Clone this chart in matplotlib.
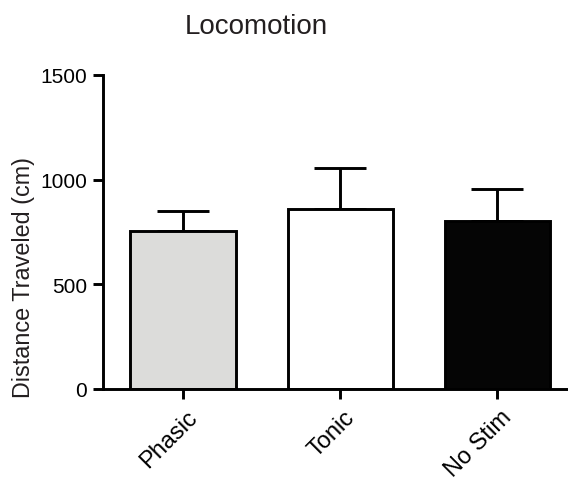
import matplotlib.pyplot as plt
import matplotlib.transforms as mtransforms
import numpy as np

# data
groups = ['Phasic', 'Tonic', 'No Stim']
means = [755, 858, 800]
sem = [96, 197, 153]
colors = ['#dcdcda', '#ffffff', '#050505']

plt.rcParams['font.family'] = ['Liberation Sans', 'DejaVu Sans']

fig = plt.figure(figsize=(5.68, 4.81), dpi=100)
ax = fig.add_axes([0.1813, 0.1892, 0.8187, 0.6533])

x = np.arange(len(groups))
lw = 2.1
ax.errorbar(x, means, yerr=[np.zeros(len(sem)), sem], fmt='none', ecolor='black',
            elinewidth=lw, capsize=19, capthick=lw, zorder=1)
ax.bar(x, means, width=0.67, color=colors, edgecolor='black', linewidth=lw, zorder=2)

ax.set_xlim(-0.51, 2.45)
ax.set_ylim(0, 1500)
ax.set_yticks([0, 500, 1000, 1500])
ax.set_xticks(x)
ax.set_xticklabels(groups, rotation=45, ha='right', va='top', rotation_mode='anchor',
                   fontsize=17)

for s in ['top', 'right']:
    ax.spines[s].set_visible(False)
for s in ['left', 'bottom']:
    ax.spines[s].set_linewidth(lw)
ax.tick_params(axis='both', width=lw, length=7.5, colors='black')
ax.tick_params(axis='y', pad=4, labelsize=15)
ax.tick_params(axis='x', pad=4.5)

# push rotated labels a touch to the right, like the original
shift = mtransforms.ScaledTranslation(3 / 100, 0, fig.dpi_scale_trans)
for lab in ax.get_xticklabels():
    lab.set_transform(lab.get_transform() + shift)

fig.text(0.452, 0.929, 'Locomotion', fontsize=20, ha='center', va='baseline', color='#231f20')
fig.text(0.042, 0.424, 'Distance Traveled (cm)', fontsize=16.8, rotation=90,
         ha='center', va='center', color='#231f20')

fig.savefig('out.png', dpi=100)
